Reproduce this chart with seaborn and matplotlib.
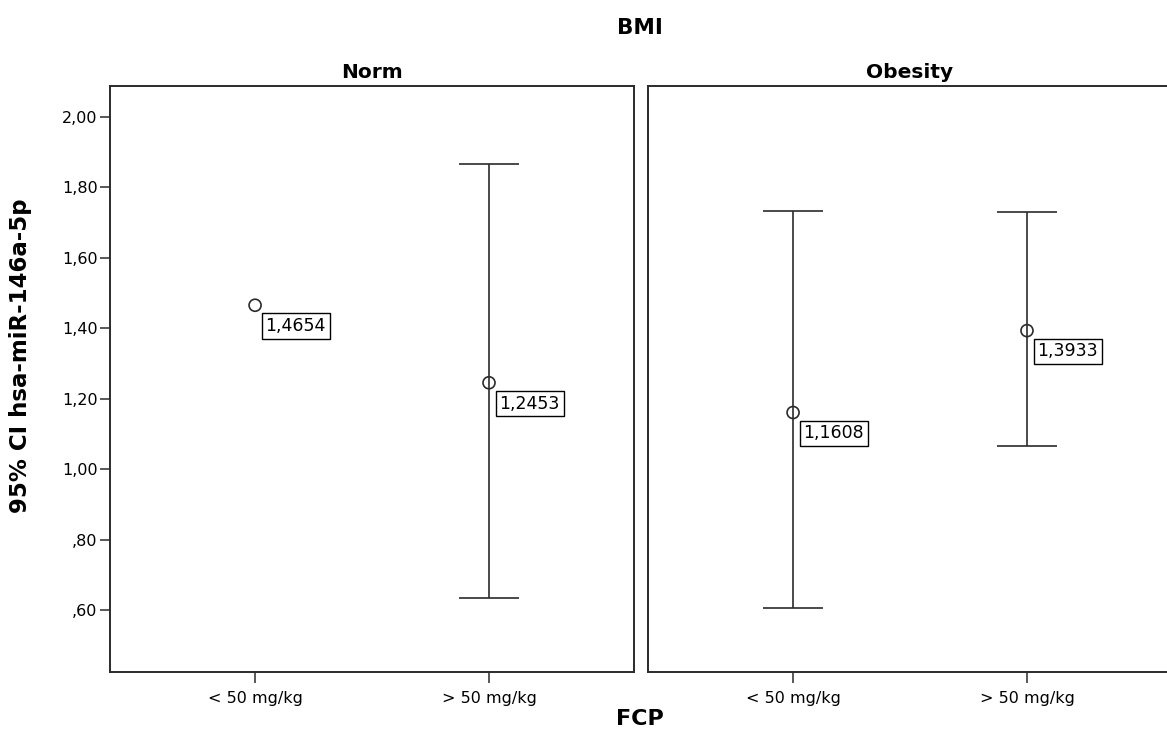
import matplotlib
matplotlib.use("Agg")
import matplotlib.pyplot as plt
import seaborn as sns
import pandas as pd

sns.set_theme(style="white")
plt.rcParams['font.family'] = ['DejaVu Sans']
plt.rcParams['text.color'] = 'black'
plt.rcParams['axes.labelcolor'] = 'black'
plt.rcParams['xtick.color'] = 'black'
plt.rcParams['ytick.color'] = 'black'

# summary values
bmi_groups = ["Norm", "Obesity"]
fcp_levels = ["< 50 mg/kg", "> 50 mg/kg"]
means = {"Norm": [1.4654, 1.2453], "Obesity": [1.1608, 1.3933]}
ci_low = {"Norm": [None, 0.633], "Obesity": [0.605, 1.066]}
ci_high = {"Norm": [None, 1.867], "Obesity": [1.732, 1.730]}
mean_labels = {"Norm": ["1,4654", "1,2453"], "Obesity": ["1,1608", "1,3933"]}

y_ticks = [0.60, 0.80, 1.00, 1.20, 1.40, 1.60, 1.80, 2.00]
y_ticklabels = [",60", ",80", "1,00", "1,20", "1,40", "1,60", "1,80", "2,00"]

line_col = "#2b2b2b"

fig = plt.figure(figsize=(11.67, 7.40), dpi=100)
positions = [[0.0943, 0.0919, 0.449, 0.7919], [0.5553, 0.0919, 0.449, 0.7919]]

for i, grp in enumerate(bmi_groups):
    ax = fig.add_axes(positions[i])
    df = pd.DataFrame({"FCP": fcp_levels, "mean": means[grp]})
    sns.scatterplot(data=df, x="FCP", y="mean", ax=ax, marker="o", s=75,
                    facecolor="none", edgecolor=line_col, linewidth=1.2, zorder=3)
    for j, lvl in enumerate(fcp_levels):
        lo, hi = ci_low[grp][j], ci_high[grp][j]
        if lo is not None:
            m = means[grp][j]
            ax.errorbar([lvl], [m], yerr=[[m - lo], [hi - m]], fmt="none",
                        ecolor=line_col, elinewidth=1.2, capsize=21.5,
                        capthick=1.2, zorder=2)
        ax.annotate(mean_labels[grp][j], xy=(j, means[grp][j]), xytext=(7.5, -15),
                    textcoords="offset points", ha="left", va="center",
                    fontsize=12.5, color="black",
                    bbox=dict(boxstyle="square,pad=0.22", fc="white",
                              ec="black", lw=1.0), zorder=4)
    ax.set_xlim(-0.62, 1.62)
    ax.set_ylim(0.424, 2.088)
    ax.set_yticks(y_ticks)
    ax.set_xlabel("")
    ax.set_ylabel("")
    ax.tick_params(axis="x", direction="out", length=8, width=1.1, color=line_col,
                   labelsize=11.5, pad=6, bottom=True)
    if i == 0:
        ax.set_yticklabels(y_ticklabels)
        ax.tick_params(axis="y", direction="out", length=7, width=1.1,
                       color=line_col, labelsize=11.5, pad=2, left=True)
        ax.set_ylabel("95% CI hsa-miR-146a-5p", fontsize=16.5, fontweight="bold")
        ax.yaxis.set_label_coords(-0.148, 0.54)
    else:
        ax.set_yticks([])
    for sp in ax.spines.values():
        sp.set_color(line_col)
        sp.set_linewidth(1.4)
    ax.set_title(grp, fontsize=14.5, fontweight="bold", pad=6)

fig.text(0.548, 0.962, "BMI", ha="center", va="center", fontsize=15.5, fontweight="bold")
fig.text(0.548, 0.029, "FCP", ha="center", va="center", fontsize=16, fontweight="bold")

fig.savefig("out.png", dpi=100)
